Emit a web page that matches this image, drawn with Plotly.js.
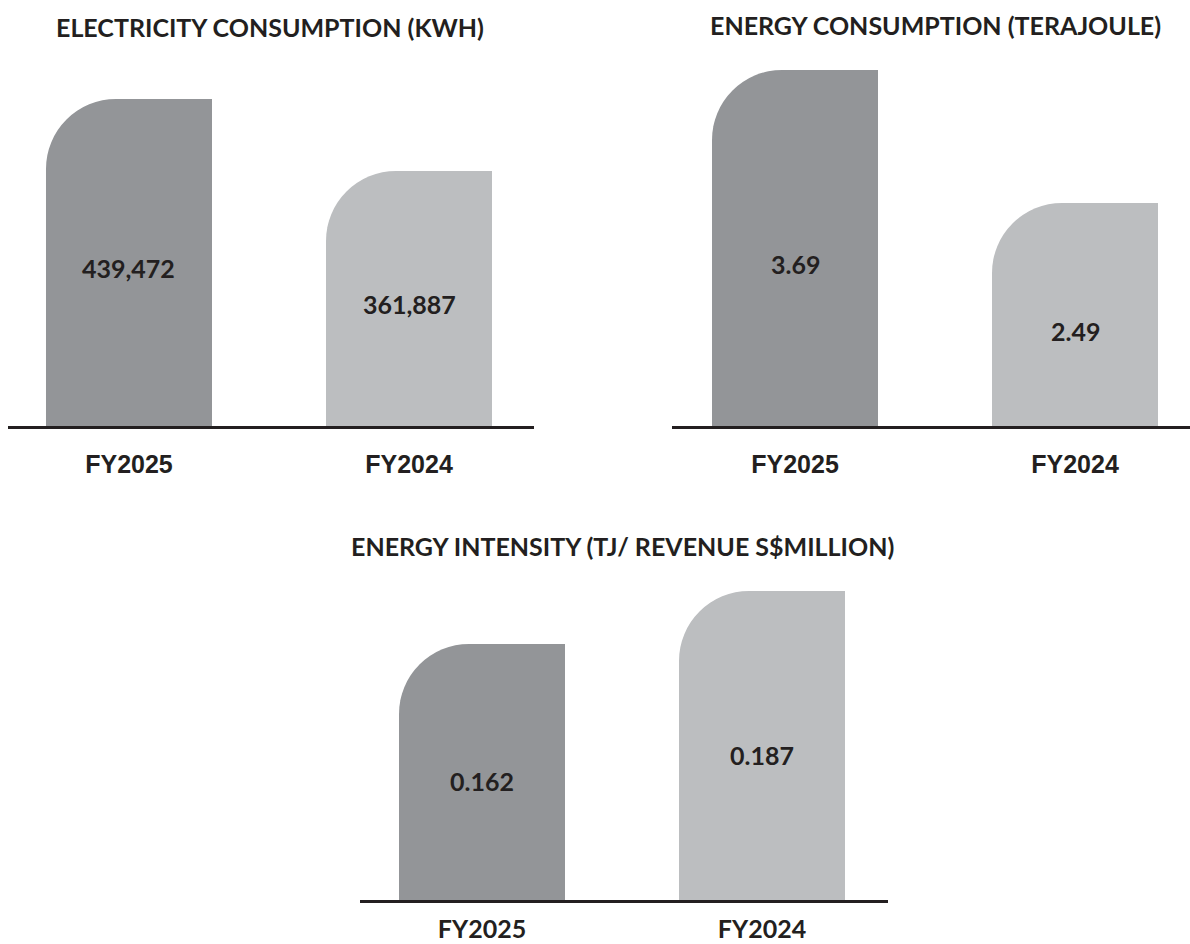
<!DOCTYPE html>
<html>
<head>
<meta charset="utf-8">
<script src="https://cdn.plot.ly/plotly-3.0.1.min.js"></script>
<style>
  html, body { margin: 0; padding: 0; background: #ffffff; }
  #chart { width: 1190px; height: 944px; }
</style>
</head>
<body>
<div id="chart"></div>
<script>
// ---- data ----
const categories = ['FY2025', 'FY2024'];
const electricityKwh = [439472, 361887];
const electricityLabels = ['439,472', '361,887'];
const energyTerajoule = [3.69, 2.49];
const energyLabels = ['3.69', '2.49'];
const energyIntensity = [0.162, 0.187];
const intensityLabels = ['0.162', '0.187'];
const chartTitles = [
  'ELECTRICITY CONSUMPTION (KWH)',
  'ENERGY CONSUMPTION (TERAJOULE)',
  'ENERGY INTENSITY (TJ/ REVENUE S$MILLION)'
];

// ---- style ----
const barColors = ['#939598', '#bcbec0'];
const ink = '#231f20';
const W = 166 / 280;      // bar width in category units
const R = 70;             // corner radius in px

// axis floors / layout settings (not data)
const panels = [
  { vals: electricityKwh, labels: electricityLabels, xa: 'x', ya: 'y',
    floor: 87105, top: 481497, xdom: [8, 534], xr: [-0.4321, 1.4464], ydomPx: [426, 60],
    tickFamily: 'Liberation Sans', standoff: 14, textShift: -5 },
  { vals: energyTerajoule, labels: energyLabels, xa: 'x2', ya: 'y2',
    floor: 0.4779, top: 3.7802, xdom: [672, 1190], xr: [-0.4393, 1.4107], ydomPx: [426, 60],
    tickFamily: 'Liberation Sans', standoff: 14, textShift: -16 },
  { vals: energyIntensity, labels: intensityLabels, xa: 'x3', ya: 'y3',
    floor: 0.04125, top: 0.19691, xdom: [360, 888], xr: [-0.4357, 1.45], ydomPx: [900, 570],
    tickFamily: 'Lato', standoff: 5, textShift: -9 }
];

const traces = [];
const annotations = [];
const layout = {
  width: 1190, height: 944,
  margin: { l: 0, r: 0, t: 0, b: 0 },
  paper_bgcolor: '#ffffff', plot_bgcolor: 'rgba(0,0,0,0)',
  barmode: 'overlay',
  showlegend: false,
  font: { family: 'Lato', color: ink }
};

panels.forEach((p, i) => {
  // full-width bar with rounded top corners
  traces.push({
    type: 'bar', x: categories, y: p.vals, xaxis: p.xa, yaxis: p.ya,
    width: W, offset: -W / 2,
    marker: { color: barColors, cornerradius: R, line: { width: 0 } },
    hoverinfo: 'skip'
  });
  // right half, square, so only the top-left corner stays rounded
  traces.push({
    type: 'bar', x: categories, y: p.vals, xaxis: p.xa, yaxis: p.ya,
    width: W / 2, offset: 0,
    marker: { color: barColors, cornerradius: 0, line: { width: 0 } },
    hoverinfo: 'skip'
  });
  const sfx = i === 0 ? '' : String(i + 1);
  layout['xaxis' + sfx] = {
    domain: [p.xdom[0] / 1190, p.xdom[1] / 1190],
    range: p.xr, type: 'category', anchor: p.ya,
    showline: true, linecolor: ink, linewidth: 2.5,
    showgrid: false, zeroline: false, ticks: '',
    ticklabelstandoff: p.standoff,
    tickfont: { family: p.tickFamily, size: 25, weight: 'bold', color: ink },
    fixedrange: true
  };
  layout['yaxis' + sfx] = {
    domain: [(944 - p.ydomPx[0]) / 944, (944 - p.ydomPx[1]) / 944],
    range: [p.floor, p.top], anchor: p.xa,
    visible: false, showgrid: false, zeroline: false, fixedrange: true
  };
  p.vals.forEach((v, j) => {
    annotations.push({
      xref: p.xa, yref: p.ya, x: categories[j], y: (v + p.floor) / 2,
      yshift: p.textShift,
      text: p.labels[j], showarrow: false,
      font: { family: 'Lato', size: 25, weight: 'bold', color: ink }
    });
  });
});

const titlePos = [[270, 27], [935, 25], [622, 546]];
chartTitles.forEach((t, i) => {
  annotations.push({
    xref: 'paper', yref: 'paper',
    x: titlePos[i][0] / 1190, y: 1 - titlePos[i][1] / 944,
    xanchor: 'center', yanchor: 'middle',
    text: t, showarrow: false,
    font: { family: 'Lato', size: 25, weight: 'bold', color: ink }
  });
});
layout.annotations = annotations;

Plotly.newPlot('chart', traces, layout, { displayModeBar: false, staticPlot: true });
</script>
</body>
</html>
